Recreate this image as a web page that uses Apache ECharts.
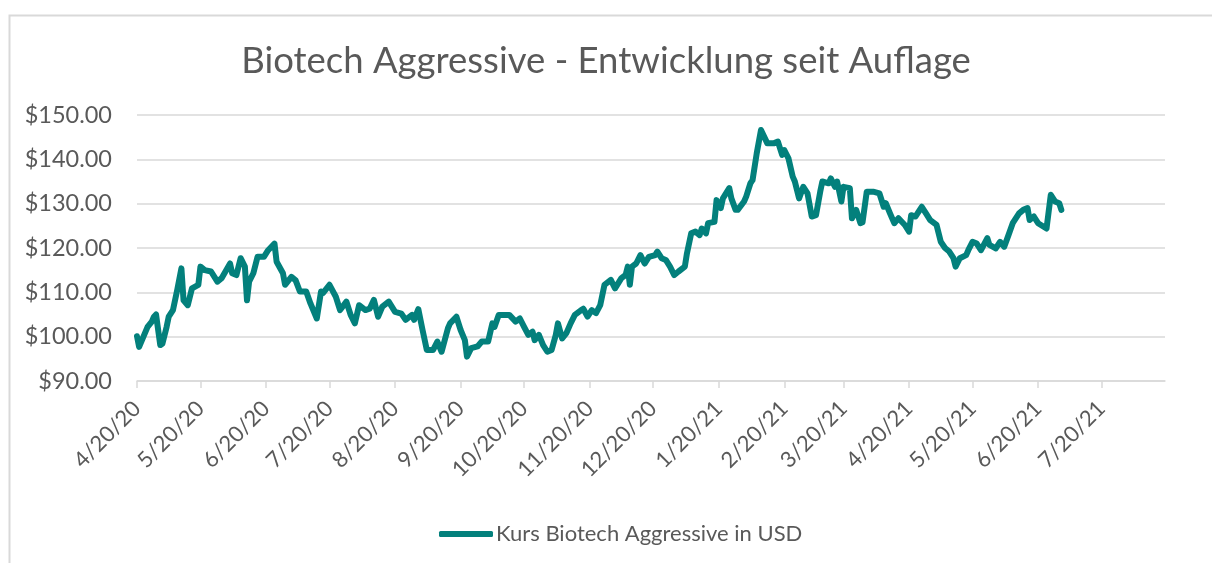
<!DOCTYPE html>
<html>
<head>
<meta charset="utf-8">
<script src="https://cdn.jsdelivr.net/npm/echarts@6/dist/echarts.min.js"></script>
<style>html,body{margin:0;padding:0;background:#fff}#c{width:1212px;height:563px}</style>
</head>
<body>
<div id="c"></div>
<script>
// Days since launch (4/20/20) of each plotted point
const dayOffsets = [0,1,4,5,7,8,9,11,12,14,15,17,19,21,22,24,26,29,30,32,35,38,40,44,45,47,49,51,52,53,55,57,60,62,65,66,69,70,73,75,77,80,82,85,87,88,91,94,96,99,101,103,105,108,110,112,114,116,119,122,125,127,130,131,133,135,137,140,142,144,147,148,151,153,155,156,158,161,163,166,168,169,171,173,176,179,181,183,185,187,188,190,192,194,196,198,199,201,203,205,207,210,211,213,215,217,219,221,224,226,229,231,232,233,234,236,238,240,242,245,246,248,250,252,254,256,259,260,262,264,266,267,269,270,273,274,276,277,280,281,283,284,287,288,290,291,293,295,298,301,303,305,306,308,310,311,313,315,317,319,321,323,324,327,328,330,331,333,334,337,338,340,342,343,345,348,351,353,354,356,358,360,363,365,366,368,371,373,375,378,380,382,384,386,387,389,392,393,395,397,399,402,403,406,408,410,412,414,417,419,421,422,424,426,430,432,434,436,437];
// Price in USD
const prices = [100.1,97.7,101.1,102.2,103.4,104.5,105.0,98.1,98.4,102.2,104.5,106.0,110.5,115.4,108.2,107.1,110.9,111.7,115.8,115.0,114.7,112.4,113.2,116.5,114.3,113.9,117.7,115.8,108.2,112.4,114.3,118.0,118.0,119.5,121.0,116.9,114.3,111.7,113.5,112.7,110.2,110.2,107.5,104.1,110.2,109.9,111.7,109.0,106.0,107.9,104.9,103.0,107.1,106.0,106.3,108.3,104.5,106.8,107.9,105.6,105.2,103.8,104.9,103.8,106.2,101.5,97.0,97.0,98.9,96.6,101.9,103.0,104.5,101.5,99.2,95.5,97.4,97.8,98.9,98.9,103.0,102.2,104.9,104.9,104.9,103.4,104.1,102.2,100.4,101.1,99.2,100.4,98.1,96.6,97.0,100.4,103.0,99.6,100.8,103.0,104.9,106.0,106.3,104.5,106.0,105.3,107.1,111.7,112.8,110.9,113.2,113.9,115.8,111.7,115.8,116.5,118.4,116.5,118.0,118.4,119.2,117.7,117.3,115.8,113.9,114.7,115.8,118.8,123.3,123.7,122.9,124.4,123.3,125.6,125.9,130.8,129.0,131.2,133.5,131.2,128.6,128.6,130.5,131.6,134.6,135.3,141.4,146.6,143.6,143.6,144.0,141.0,142.1,140.2,136.1,135.0,131.2,133.8,132.3,127.1,127.4,132.7,135.0,134.6,135.7,133.8,135.0,130.5,133.8,133.5,126.7,128.6,125.6,125.8,132.7,132.7,132.3,129.3,130.1,127.8,125.6,126.7,125.2,123.7,127.4,127.1,129.3,127.8,126.3,125.2,121.4,120.0,119.2,117.7,115.8,117.7,118.4,119.5,121.4,121.0,119.5,122.2,120.7,119.9,121.4,120.3,122.9,125.6,127.8,128.6,129.0,126.3,127.1,125.6,124.4,132.0,130.5,130.1,128.6];
const tickLabels = ['4/20/20','5/20/20','6/20/20','7/20/20','8/20/20','9/20/20','10/20/20','11/20/20','12/20/20','1/20/21','2/20/21','3/20/21','4/20/21','5/20/21','6/20/21','7/20/21'];
const yTicks = [90,100,110,120,130,140,150];
const seriesName = 'Kurs Biotech Aggressive in USD';
const titleText = 'Biotech Aggressive - Entwicklung seit Auflage';

function parseMDY(s){const p=s.split('/').map(Number);return new Date(2000+p[2],p[0]-1,p[1]);}
const start = parseMDY(tickLabels[0]);
const tickDays = tickLabels.map(s => Math.round((parseMDY(s)-start)/86400000));
const labelByDay = {};
tickDays.forEach((d,i)=>labelByDay[d]=tickLabels[i]);
const data = dayOffsets.map((d,i)=>[d,prices[i]]);

const FONT = 'Lato';
const GREY = '#595959';
const chart = echarts.init(document.getElementById('c'), null, {renderer:'canvas'});
chart.setOption({
  backgroundColor:'#ffffff',
  animation:false,
  graphic:[{type:'rect',left:7,top:13,shape:{width:1400,height:800},style:{fill:'none',stroke:'#d9d9d9',lineWidth:2},silent:true,z:-1}],
  title:{text:titleText,left:'center',top:38,textStyle:{fontFamily:FONT,fontSize:36.5,fontWeight:'normal',color:GREY}},
  legend:{data:[seriesName],bottom:13,left:434,icon:'roundRect',itemWidth:54,itemHeight:6,itemGap:4,
    textStyle:{fontFamily:FONT,fontSize:22,color:GREY,padding:[0,0,0,-2]}},
  grid:{left:137,right:47,top:115,bottom:182,containLabel:false},
  xAxis:{type:'value',min:0,max:486,
    axisLine:{show:true,lineStyle:{color:'#d9d9d9',width:1.5}},
    axisTick:{show:true,length:7,inside:false,customValues:tickDays,lineStyle:{color:'#d9d9d9',width:1.5}},
    axisLabel:{customValues:tickDays,rotate:45,margin:24,fontFamily:FONT,fontSize:22,color:GREY,
      formatter:v=>labelByDay[Math.round(v)]||''},
    splitLine:{show:false}},
  yAxis:{type:'value',min:yTicks[0],max:yTicks[yTicks.length-1],interval:10,
    axisLine:{show:false},axisTick:{show:false},
    axisLabel:{margin:25,fontFamily:FONT,fontSize:23.5,color:GREY,formatter:v=>'$'+v.toFixed(2)},
    splitLine:{show:true,lineStyle:{color:'#d9d9d9',width:1.5}}},
  series:[{name:seriesName,type:'line',data:data,showSymbol:false,symbol:'none',smooth:false,
    lineStyle:{color:'#03807c',width:6,cap:'round',join:'round'},itemStyle:{color:'#03807c'}}]
});
</script>
</body>
</html>
